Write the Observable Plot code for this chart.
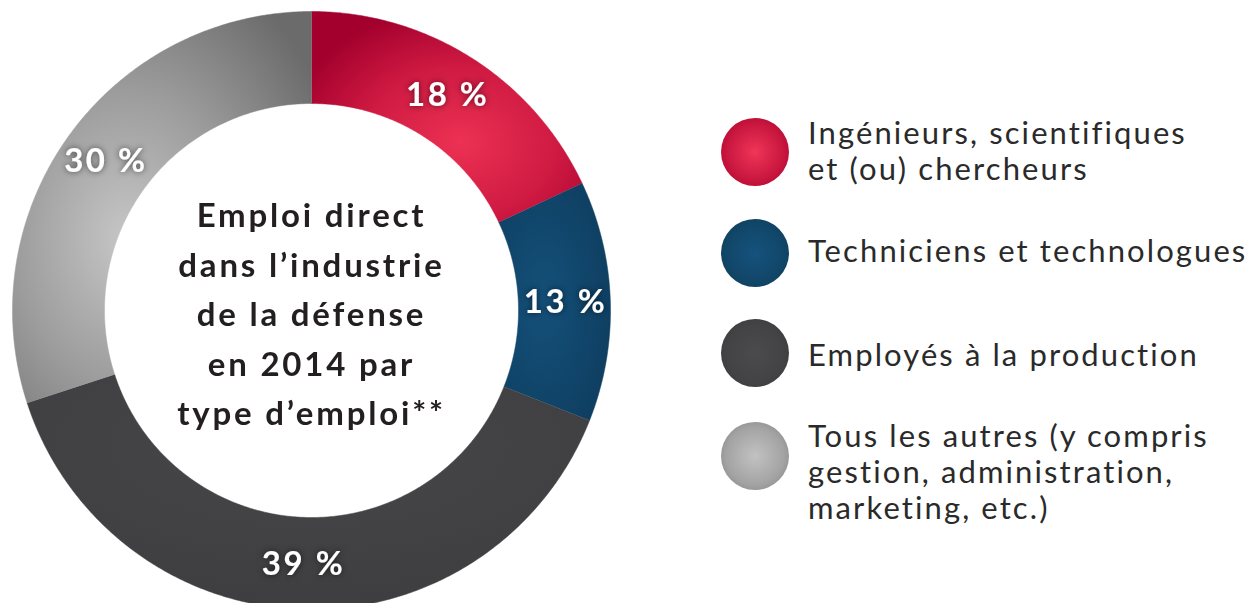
<!DOCTYPE html>
<html><head><meta charset="utf-8">
<script src="https://cdn.jsdelivr.net/npm/d3@7"></script>
<script src="https://cdn.jsdelivr.net/npm/@observablehq/plot@0.6"></script>
<style>
body{margin:0;background:#fff;}
#wrap{position:relative;width:1255px;height:603px;overflow:hidden;font-family:Lato,"Open Sans",sans-serif;background:#fff;}
#chart{position:absolute;left:0;top:0;}
.dot{position:absolute;width:68px;height:68px;border-radius:50%;}
.lab{position:absolute;font-size:31px;line-height:36px;color:#2a2a2a;white-space:pre;letter-spacing:2.1px;}
</style></head>
<body><div id="wrap"><div id="chart"></div></div>
<script>
// ---- data ----
const categories = [
  "Ingénieurs, scientifiques\net (ou) chercheurs",
  "Techniciens et technologues",
  "Employés à la production",
  "Tous les autres (y compris\ngestion, administration,\nmarketing, etc.)"
];
const shares = [18, 13, 39, 30];
const pctLabels = ["18 %", "13 %", "39 %", "30 %"];
const centerTitle = "Emploi direct\ndans l’industrie\nde la défense\nen 2014 par\ntype d’emploi**";

// ---- styles ----
const gradIds = ["gRed", "gBlue", "gDark", "gGray"];
const legendGradients = [
  "radial-gradient(circle at 50% 50%, #f03558 0%, #c8163e 60%, #a1002b 100%)",
  "radial-gradient(circle at 50% 50%, #15527d 0%, #114668 60%, #0d3a58 100%)",
  "radial-gradient(circle at 50% 50%, #4b4b4d 0%, #434345 60%, #38383a 100%)",
  "radial-gradient(circle at 50% 50%, #c2c2c2 0%, #a3a3a3 60%, #7a7a7a 100%)"
];
const innerR = 207 / 299;

// ---- geometry from data (unit coordinates) ----
const pie = d3.pie().sort(null).value(d => d)(shares);
const slices = pie.map((p, i) => {
  const pts = [];
  const n = Math.max(8, Math.ceil((p.endAngle - p.startAngle) / (Math.PI / 360)));
  for (let j = 0; j <= n; j++) {
    const a = p.startAngle + (p.endAngle - p.startAngle) * j / n;
    pts.push({x: Math.sin(a), y: -Math.cos(a)});
  }
  for (let j = n; j >= 0; j--) {
    const a = p.startAngle + (p.endAngle - p.startAngle) * j / n;
    pts.push({x: innerR * Math.sin(a), y: -innerR * Math.cos(a)});
  }
  const mid = (p.startAngle + p.endAngle) / 2;
  return {pts, label: pctLabels[i], lx: 0.85 * Math.sin(mid), ly: -0.85 * Math.cos(mid)};
});

const plot = Plot.plot({
  width: 640,
  height: 603,
  margin: 0,
  x: {domain: [-1, 1], range: [12, 610], axis: null},
  y: {domain: [-1, 1], range: [11, 609], axis: null},
  marks: [
    ...slices.map((s, i) => Plot.line(s.pts, {x: "x", y: "y", fill: `url(#${gradIds[i]})`, stroke: `url(#${gradIds[i]})`, strokeWidth: 0.5, curve: "linear"})),
    Plot.text(slices, {x: "lx", y: "ly", text: "label", fill: "white", fontSize: 33, fontWeight: "bold", fontFamily: "Lato, sans-serif"}),
    Plot.text([centerTitle], {x: 0, y: 0, text: d => d, fontSize: 33, fontWeight: "bold", lineHeight: 1.5, fill: "#231f20", fontFamily: "Lato, sans-serif"})
  ]
});

// gradients, shadow, letter spacing
const svg = d3.select(plot);
const defs = svg.insert("defs", ":first-child");
function radial(id, cx, cy, r, stops) {
  const g = defs.append("radialGradient").attr("id", id).attr("cx", cx).attr("cy", cy).attr("r", r);
  stops.forEach(([o, c]) => g.append("stop").attr("offset", o).attr("stop-color", c));
}
radial("gRed", 0.55, 0.62, 0.65, [[0, "#ec3153"], [0.55, "#cf1a42"], [1, "#a3002d"]]);
radial("gBlue", 0.4, 0.5, 0.7, [[0, "#14507a"], [1, "#0e3d5e"]]);
radial("gDark", 0.5, 0.3, 0.7, [[0, "#47474a"], [1, "#3e3e40"]]);
radial("gGray", 0.38, 0.58, 0.75, [[0, "#c6c6c6"], [0.5, "#9c9c9c"], [1, "#6b6b6b"]]);
const f = defs.append("filter").attr("id", "tshadow").attr("x", "-30%").attr("y", "-30%").attr("width", "160%").attr("height", "160%");
f.append("feDropShadow").attr("dx", 0).attr("dy", 0).attr("stdDeviation", 3).attr("flood-color", "#000").attr("flood-opacity", 0.6);
svg.selectAll('g[aria-label="text"]').each(function() {
  const white = this.getAttribute("fill") === "white";
  if (white) d3.select(this).attr("filter", "url(#tshadow)").style("letter-spacing", "2.5px");
  else d3.select(this).style("letter-spacing", "2.8px");
});
plot.style.overflow = "visible";
document.getElementById("chart").appendChild(plot);

// legend
const wrap = document.getElementById("wrap");
const dotCY = [152, 253, 353, 456];
const textTop = [114, 232, 336, 417];
categories.forEach((c, i) => {
  const d = document.createElement("div");
  d.className = "dot";
  d.style.left = (755 - 34) + "px";
  d.style.top = (dotCY[i] - 34) + "px";
  d.style.background = legendGradients[i];
  wrap.appendChild(d);
  const t = document.createElement("div");
  t.className = "lab";
  t.style.left = "808px";
  t.style.top = textTop[i] + "px";
  t.textContent = c;
  wrap.appendChild(t);
});
</script>
</body></html>
